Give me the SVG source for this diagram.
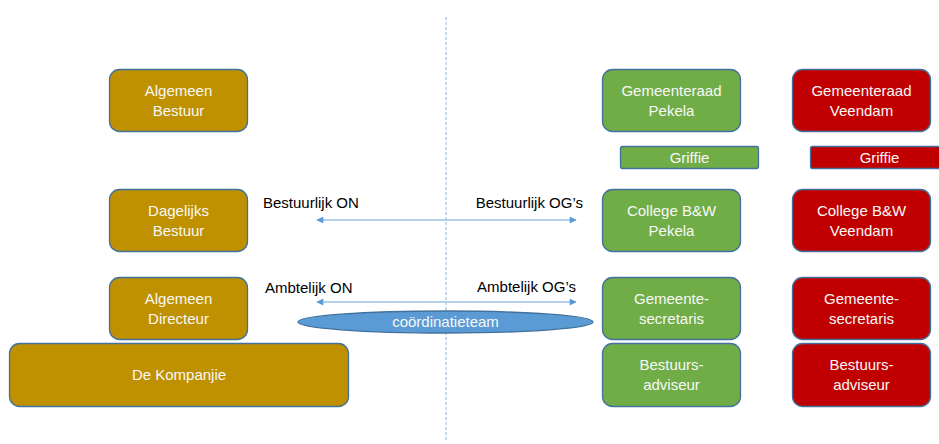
<svg xmlns="http://www.w3.org/2000/svg" width="939" height="444" viewBox="0 0 939 444">
<defs>
<style>
.box{stroke:#41719C;stroke-width:1.3}
.gold{fill:#BF9000}
.green{fill:#70AD47}
.red{fill:#C00000}
.t{font-family:"Liberation Sans",Arial,sans-serif;font-size:15px;fill:#F8F8F8;text-anchor:middle}
.lbl{font-family:"Liberation Sans",Arial,sans-serif;font-size:15px;fill:#000000}
.arr{stroke:#9DC3E6;stroke-width:1.5;fill:none;marker-start:url(#ah);marker-end:url(#ah)}
</style>
<marker id="ah" viewBox="0 0 10 10" refX="9" refY="5" markerWidth="8" markerHeight="7" markerUnits="userSpaceOnUse" orient="auto-start-reverse">
<path d="M0,0 L10,5 L0,10 z" fill="#5B9BD5"/>
</marker>
</defs>
<rect width="939" height="444" fill="#FFFFFF"/>
<g id="connectors">
<line x1="446" y1="17" x2="446" y2="440" stroke="#8FB4E0" stroke-width="1" stroke-dasharray="3,2"/>
<line class="arr" x1="317" y1="220" x2="576" y2="220"/>
<line class="arr" x1="317" y1="302" x2="576" y2="302"/>
</g>
<g id="label-bestuurlijk-on"><text class="lbl" x="263" y="208">Bestuurlijk ON</text></g>
<g id="label-bestuurlijk-og"><text class="lbl" x="583" y="208" text-anchor="end">Bestuurlijk OG’s</text></g>
<g id="label-ambtelijk-on"><text class="lbl" x="265" y="293">Ambtelijk ON</text></g>
<g id="label-ambtelijk-og"><text class="lbl" x="576" y="292" text-anchor="end">Ambtelijk OG’s</text></g>
<g id="coordinatieteam">
<ellipse cx="445.5" cy="322" rx="147.5" ry="11" fill="#5B9BD5" stroke="#41719C" stroke-width="1.3"/>
<text class="t" x="445.5" y="327">coördinatieteam</text>
</g>
<g id="algemeen-bestuur">
<rect class="box gold" x="109.5" y="69.5" width="138" height="62" rx="10"/>
<text class="t" x="178.5" y="96">Algemeen</text><text class="t" x="178.5" y="116">Bestuur</text>
</g>
<g id="dagelijks-bestuur">
<rect class="box gold" x="109.5" y="189.5" width="138" height="62" rx="10"/>
<text class="t" x="178.5" y="216">Dagelijks</text><text class="t" x="178.5" y="236">Bestuur</text>
</g>
<g id="algemeen-directeur">
<rect class="box gold" x="109.5" y="277.5" width="138" height="62" rx="10"/>
<text class="t" x="178.5" y="304">Algemeen</text><text class="t" x="178.5" y="324">Directeur</text>
</g>
<g id="de-kompanjie">
<rect class="box gold" x="9.5" y="343.5" width="339" height="63" rx="10"/>
<text class="t" x="179" y="380">De Kompanjie</text>
</g>
<g id="gemeenteraad-pekela">
<rect class="box green" x="602.5" y="69.5" width="138" height="62" rx="10"/>
<text class="t" x="671.5" y="96">Gemeenteraad</text><text class="t" x="671.5" y="116">Pekela</text>
</g>
<g id="griffie-pekela">
<rect class="box green" x="620.5" y="146.5" width="138" height="22" rx="2"/>
<text class="t" x="689.5" y="163">Griffie</text>
</g>
<g id="college-pekela">
<rect class="box green" x="602.5" y="189.5" width="138" height="62" rx="10"/>
<text class="t" x="671.5" y="216">College B&amp;W</text><text class="t" x="671.5" y="236">Pekela</text>
</g>
<g id="secretaris-pekela">
<rect class="box green" x="602.5" y="277.5" width="138" height="62" rx="10"/>
<text class="t" x="671.5" y="304">Gemeente-</text><text class="t" x="671.5" y="324">secretaris</text>
</g>
<g id="adviseur-pekela">
<rect class="box green" x="602.5" y="343.5" width="138" height="63" rx="10"/>
<text class="t" x="671.5" y="370">Bestuurs-</text><text class="t" x="671.5" y="390">adviseur</text>
</g>
<g id="gemeenteraad-veendam">
<rect class="box red" x="792.5" y="69.5" width="138" height="62" rx="10"/>
<text class="t" x="861.5" y="96">Gemeenteraad</text><text class="t" x="861.5" y="116">Veendam</text>
</g>
<g id="griffie-veendam">
<rect class="box red" x="810.5" y="146.5" width="138" height="22" rx="2"/>
<text class="t" x="879.5" y="163">Griffie</text>
</g>
<g id="college-veendam">
<rect class="box red" x="792.5" y="189.5" width="138" height="62" rx="10"/>
<text class="t" x="861.5" y="216">College B&amp;W</text><text class="t" x="861.5" y="236">Veendam</text>
</g>
<g id="secretaris-veendam">
<rect class="box red" x="792.5" y="277.5" width="138" height="62" rx="10"/>
<text class="t" x="861.5" y="304">Gemeente-</text><text class="t" x="861.5" y="324">secretaris</text>
</g>
<g id="adviseur-veendam">
<rect class="box red" x="792.5" y="343.5" width="138" height="63" rx="10"/>
<text class="t" x="861.5" y="370">Bestuurs-</text><text class="t" x="861.5" y="390">adviseur</text>
</g>
</svg>
